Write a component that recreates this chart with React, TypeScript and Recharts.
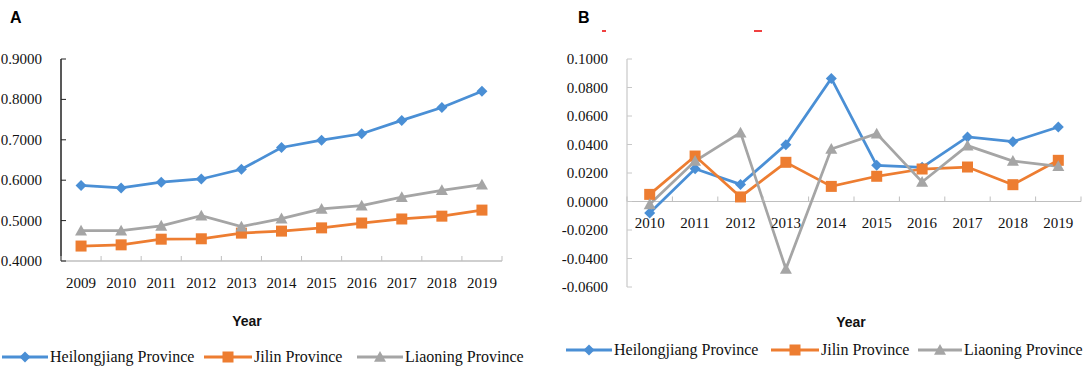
import React from 'react';
import {
  LineChart,
  Line,
  XAxis,
  YAxis,
  ReferenceLine,
} from 'recharts';

// panel A: level values 2009-2019
const yearsA = ['2009', '2010', '2011', '2012', '2013', '2014', '2015', '2016', '2017', '2018', '2019'];
const heilongjiangA = [0.587, 0.581, 0.595, 0.603, 0.627, 0.681, 0.699, 0.715, 0.748, 0.78, 0.82];
const jilinA = [0.437, 0.44, 0.454, 0.455, 0.469, 0.474, 0.482, 0.494, 0.504, 0.511, 0.526];
const liaoningA = [0.475, 0.475, 0.487, 0.512, 0.485, 0.505, 0.529, 0.537, 0.558, 0.575, 0.589];
const ticksA = [0.4, 0.5, 0.6, 0.7, 0.8, 0.9];

// panel B: growth 2010-2019
const yearsB = ['2010', '2011', '2012', '2013', '2014', '2015', '2016', '2017', '2018', '2019'];
const heilongjiangB = [-0.0081, 0.023, 0.012, 0.0399, 0.0864, 0.0254, 0.024, 0.0453, 0.042, 0.0523];
const jilinB = [0.005, 0.0319, 0.0032, 0.0275, 0.0106, 0.0177, 0.0228, 0.0242, 0.0118, 0.0289];
const liaoningB = [-0.002, 0.0284, 0.0483, -0.0474, 0.0368, 0.0476, 0.0137, 0.0392, 0.0284, 0.0247];
const ticksB = [-0.06, -0.04, -0.02, 0, 0.02, 0.04, 0.06, 0.08, 0.1];

const seriesNames = ['Heilongjiang Province', 'Jilin Province', 'Liaoning Province'];

const BLUE = '#4a8fd5';
const ORANGE = '#ed7d31';
const GRAY = '#a5a5a5';
const AXIS_GRAY = '#bfbfbf';
const SERIF = '"Liberation Serif", "DejaVu Serif", serif';
const SANS = '"Liberation Sans", Arial, sans-serif';

const dataA = yearsA.map((year, i) => ({
  year,
  hei: heilongjiangA[i],
  jilin: jilinA[i],
  liao: liaoningA[i],
}));

const dataB = yearsB.map((year, i) => ({
  year,
  hei: heilongjiangB[i],
  jilin: jilinB[i],
  liao: liaoningB[i],
}));

// chart geometry
const A_W = 540;
const A_H = 367;
const A_MARGIN = { top: 59, right: 38, left: 0, bottom: 76 };
const A_YAXIS_W = 61;
const A_BAND = (A_W - A_MARGIN.left - A_MARGIN.right - A_YAXIS_W) / yearsA.length;

const B_W = 544;
const B_H = 367;
const B_MARGIN = { top: 59, right: 3, left: 0, bottom: 60 };
const B_YAXIS_W = 87;
const B_XAXIS_H = 20;
const B_BAND = (B_W - B_MARGIN.left - B_MARGIN.right - B_YAXIS_W) / yearsB.length;
const B_PLOT_H = B_H - B_MARGIN.top - B_MARGIN.bottom - B_XAXIS_H;
const B_MIN = ticksB[0];
const B_MAX = ticksB[ticksB.length - 1];
const B_ZERO_UP = (B_PLOT_H * (0 - B_MIN)) / (B_MAX - B_MIN);

const Diamond = ({ cx, cy, fill, size = 5.5 }: any) => {
  if (cx == null || cy == null) return null;
  return (
    <path
      d={`M${cx},${cy - size}L${cx + size},${cy}L${cx},${cy + size}L${cx - size},${cy}Z`}
      fill={fill}
    />
  );
};

const Square = ({ cx, cy, fill, size = 5.5 }: any) => {
  if (cx == null || cy == null) return null;
  return <rect x={cx - size} y={cy - size} width={size * 2} height={size * 2} fill={fill} />;
};

const Triangle = ({ cx, cy, fill, size = 6 }: any) => {
  if (cx == null || cy == null) return null;
  return (
    <path
      d={`M${cx},${cy - size}L${cx + size},${cy + size * 0.8}L${cx - size},${cy + size * 0.8}Z`}
      fill={fill}
    />
  );
};

const dotFor = (Shape: any, color: string, prefix: string) => (p: any) =>
  <Shape key={`${prefix}-${p.index}`} cx={p.cx} cy={p.cy} fill={color} />;

const makeYTick = (lineColor: string) => (props: any) => {
  const { x, y, payload } = props;
  return (
    <g>
      <line x1={x} x2={x + 5} y1={y} y2={y} stroke={lineColor} strokeWidth={1} />
      <text x={x - 19} y={y} dy={5} textAnchor="end" fontFamily={SERIF} fontSize={15} fill="#111">
        {Number(payload.value).toFixed(4)}
      </text>
    </g>
  );
};

const TickA = (props: any) => {
  const { x, y, payload, index } = props;
  const last = index === yearsA.length - 1;
  return (
    <g>
      <line x1={x - A_BAND / 2} x2={x - A_BAND / 2} y1={y} y2={y - 5} stroke={AXIS_GRAY} />
      {last && <line x1={x + A_BAND / 2} x2={x + A_BAND / 2} y1={y} y2={y - 5} stroke={AXIS_GRAY} />}
      <text x={x} y={y + 27} textAnchor="middle" fontFamily={SERIF} fontSize={15} fill="#111">
        {payload.value}
      </text>
    </g>
  );
};

// x axis of B sits on the zero line, so shift up from the plot bottom
const TickB = (props: any) => {
  const { x, y, payload, index } = props;
  const zy = y - B_ZERO_UP;
  const last = index === yearsB.length - 1;
  return (
    <g>
      <line x1={x - B_BAND / 2} x2={x - B_BAND / 2} y1={zy} y2={zy - 5} stroke={AXIS_GRAY} />
      {last && <line x1={x + B_BAND / 2} x2={x + B_BAND / 2} y1={zy} y2={zy - 5} stroke={AXIS_GRAY} />}
      <text x={x} y={zy + 26} textAnchor="middle" fontFamily={SERIF} fontSize={15} fill="#111">
        {payload.value}
      </text>
    </g>
  );
};

const LegendIcon = ({ color, Shape, w }: any) => (
  <svg width={w} height={14} style={{ display: 'block' }}>
    <line x1={0} x2={w} y1={7} y2={7} stroke={color} strokeWidth={3} />
    <Shape cx={w / 2} cy={7} fill={color} />
  </svg>
);

const legendItems = [
  { name: seriesNames[0], color: BLUE, Shape: Diamond },
  { name: seriesNames[1], color: ORANGE, Shape: Square },
  { name: seriesNames[2], color: GRAY, Shape: Triangle },
];

const ChartLegend = ({ top, starts, widths }: { top: number; starts: number[]; widths: number[] }) => (
  <div style={{ position: 'absolute', left: 0, top }}>
    {legendItems.map((it, i) => (
      <div
        key={it.name}
        style={{
          position: 'absolute',
          left: starts[i],
          top: 0,
          display: 'flex',
          alignItems: 'center',
          whiteSpace: 'nowrap',
        }}
      >
        <LegendIcon color={it.color} Shape={it.Shape} w={widths[i]} />
        <span style={{ marginLeft: 2, fontFamily: SERIF, fontSize: 16, color: '#111', lineHeight: '14px' }}>
          {it.name}
        </span>
      </div>
    ))}
  </div>
);

const panelLabel: React.CSSProperties = {
  position: 'absolute',
  fontFamily: SANS,
  fontWeight: 700,
  fontSize: 16,
  color: '#000',
};

const yearLabel: React.CSSProperties = {
  position: 'absolute',
  fontFamily: SANS,
  fontWeight: 700,
  fontSize: 14,
  color: '#111',
  transform: 'translateX(-50%)',
};

export default function App() {
  return (
    <div style={{ position: 'absolute', left: 0, top: 0, width: 1084, height: 367, background: '#fff', overflow: 'hidden' }}>
      <div style={{ position: 'absolute', left: 0, top: 0 }}>
        <LineChart width={A_W} height={A_H} data={dataA} margin={A_MARGIN}>
          <XAxis
            dataKey="year"
            scale="band"
            height={30}
            axisLine={{ stroke: AXIS_GRAY, strokeWidth: 1.5 }}
            tickLine={false}
            tickSize={0}
            tickMargin={0}
            interval={0}
            tick={TickA}
          />
          <YAxis
            width={A_YAXIS_W}
            domain={[0.4, 0.9]}
            ticks={ticksA}
            axisLine={{ stroke: '#222', strokeWidth: 1.5 }}
            tickLine={false}
            tickSize={0}
            tickMargin={0}
            interval={0}
            tick={makeYTick('#222')}
          />
          <Line dataKey="hei" stroke={BLUE} strokeWidth={2.75} dot={dotFor(Diamond, BLUE, 'ah')} isAnimationActive={false} />
          <Line dataKey="jilin" stroke={ORANGE} strokeWidth={2.75} dot={dotFor(Square, ORANGE, 'aj')} isAnimationActive={false} />
          <Line dataKey="liao" stroke={GRAY} strokeWidth={2.75} dot={dotFor(Triangle, GRAY, 'al')} isAnimationActive={false} />
        </LineChart>
      </div>

      <div style={{ position: 'absolute', left: 540, top: 0 }}>
        <LineChart width={B_W} height={B_H} data={dataB} margin={B_MARGIN}>
          <XAxis
            dataKey="year"
            scale="band"
            height={B_XAXIS_H}
            axisLine={false}
            tickLine={false}
            tickSize={0}
            tickMargin={0}
            interval={0}
            tick={TickB}
          />
          <YAxis
            width={B_YAXIS_W}
            domain={[B_MIN, B_MAX]}
            ticks={ticksB}
            axisLine={{ stroke: '#c8c8c8', strokeWidth: 1.2 }}
            tickLine={false}
            tickSize={0}
            tickMargin={0}
            interval={0}
            tick={makeYTick('#c8c8c8')}
          />
          <ReferenceLine y={0} stroke={AXIS_GRAY} strokeWidth={1.2} />
          <Line dataKey="hei" stroke={BLUE} strokeWidth={2.75} dot={dotFor(Diamond, BLUE, 'bh')} isAnimationActive={false} />
          <Line dataKey="jilin" stroke={ORANGE} strokeWidth={2.75} dot={dotFor(Square, ORANGE, 'bj')} isAnimationActive={false} />
          <Line dataKey="liao" stroke={GRAY} strokeWidth={2.75} dot={dotFor(Triangle, GRAY, 'bl')} isAnimationActive={false} />
        </LineChart>
      </div>

      <div style={{ ...panelLabel, left: 10, top: 9 }}>A</div>
      <div style={{ ...panelLabel, left: 578, top: 9 }}>B</div>
      {/* remnants of a cropped title */}
      <div style={{ position: 'absolute', left: 602, top: 30, width: 4, height: 2, background: '#f04040' }} />
      <div style={{ position: 'absolute', left: 754, top: 30, width: 8, height: 2, background: '#f04040' }} />

      <div style={{ ...yearLabel, left: 247, top: 313 }}>Year</div>
      <div style={{ ...yearLabel, left: 851, top: 314 }}>Year</div>

      <ChartLegend top={350} starts={[2, 204, 357]} widths={[46, 48, 46]} />
      <ChartLegend top={343} starts={[566, 771, 918]} widths={[46, 48, 44]} />
    </div>
  );
}
